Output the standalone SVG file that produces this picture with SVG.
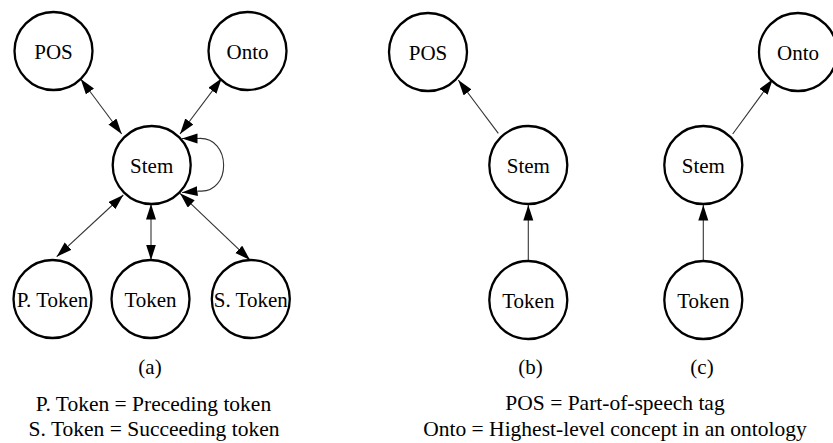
<svg xmlns="http://www.w3.org/2000/svg" width="833" height="443" viewBox="0 0 833 443">
<defs>
<style>
.node circle{fill:#fff;stroke:#000;stroke-width:2.3}
.edge{fill:none;stroke:#333;stroke-width:1.1}
.bi{marker-start:url(#ah);marker-end:url(#ah)}
.uni{marker-end:url(#ah)}
.leg{font-size:21.5px}
</style>
<marker id="ah" markerUnits="userSpaceOnUse" markerWidth="17" markerHeight="11" refX="15.5" refY="5" orient="auto-start-reverse">
<path d="M0,0 L15.5,5 L0,10 z" fill="#000"/>
</marker>
</defs>
<rect width="833" height="443" fill="#fff"/>
<g id="connectors">
<path class="edge bi" d="M80.7,79 L121.7,134"/>
<path class="edge bi" d="M221.7,78.3 L180,134"/>
<path class="edge bi" d="M182,138.5 L198,138.5 C232,136 232,194 199,191 L182,192.5"/>
<path class="edge bi" d="M123.3,195 L56.7,256.7"/>
<path class="edge bi" d="M151,204 L151,260"/>
<path class="edge bi" d="M180,193.3 L250,260"/>
<path class="edge uni" d="M498.3,133.3 L458.3,80"/>
<path class="edge uni" d="M528.3,260 L528.3,205"/>
<path class="edge uni" d="M732.7,134 L772.7,79.3"/>
<path class="edge uni" d="M703.3,260 L703.3,205"/>
</g>
<g font-family="'Liberation Serif', 'Times New Roman', 'DejaVu Serif', serif" font-size="21" text-anchor="middle" fill="#000">
<g id="a-pos" class="node"><circle cx="53.5" cy="51" r="39"/><text x="53.5" y="58.5">POS</text></g>
<g id="a-onto" class="node"><circle cx="247.5" cy="51" r="39"/><text x="247.5" y="58.5">Onto</text></g>
<g id="a-stem" class="node"><circle cx="151.7" cy="165" r="39"/><text x="151.7" y="172.5">Stem</text></g>
<g id="a-ptoken" class="node"><circle cx="52.5" cy="299" r="39"/><text x="52.5" y="306.5">P. Token</text></g>
<g id="a-token" class="node"><circle cx="150.5" cy="299" r="39"/><text x="150.5" y="306.5">Token</text></g>
<g id="a-stoken" class="node"><circle cx="250.8" cy="299" r="39"/><text x="250.8" y="306.5">S. Token</text></g>
<g id="b-pos" class="node"><circle cx="428" cy="52" r="39"/><text x="428" y="59.5">POS</text></g>
<g id="b-stem" class="node"><circle cx="528.3" cy="165" r="39"/><text x="528.3" y="172.5">Stem</text></g>
<g id="b-token" class="node"><circle cx="528.3" cy="300" r="39"/><text x="528.3" y="307.5">Token</text></g>
<g id="c-onto" class="node"><circle cx="798" cy="52" r="39"/><text x="798" y="59.5">Onto</text></g>
<g id="c-stem" class="node"><circle cx="703.3" cy="165" r="39"/><text x="703.3" y="172.5">Stem</text></g>
<g id="c-token" class="node"><circle cx="703.3" cy="300" r="39"/><text x="703.3" y="307.5">Token</text></g>
<g id="captions">
<text x="150" y="374">(a)</text>
<text x="530.5" y="374">(b)</text>
<text x="702" y="374">(c)</text>
<text class="leg" x="153.5" y="411">P. Token = Preceding token</text>
<text class="leg" x="154" y="436">S. Token = Succeeding token</text>
<text class="leg" x="615" y="410">POS = Part-of-speech tag</text>
<text class="leg" x="615" y="436">Onto = Highest-level concept in an ontology</text>
</g>
</g>
</svg>
